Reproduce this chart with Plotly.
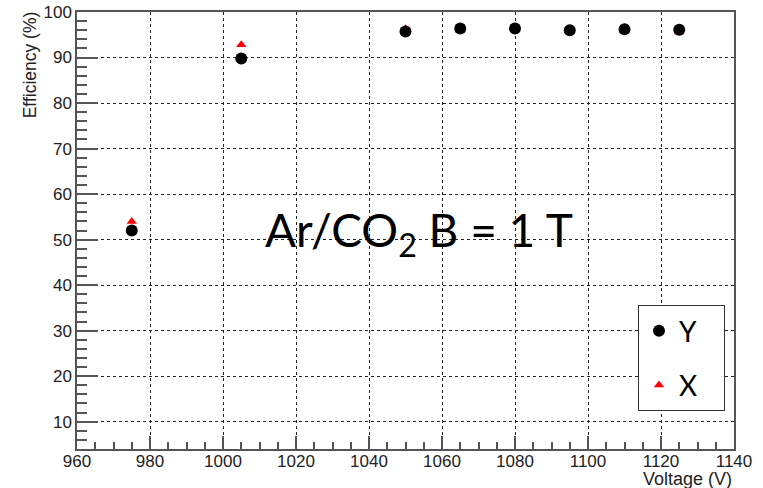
import plotly.graph_objects as go

voltage = [975, 1005, 1050, 1065, 1080, 1095, 1110, 1125]
eff_y = [52.0, 89.8, 95.7, 96.4, 96.4, 96.0, 96.2, 96.1]
eff_x = [54.0, 92.8, 96.3, 96.0, 96.2, 95.7, 96.0, 95.6]

pad = "\u00a0\u00a0\u00a0"
fig = go.Figure()
fig.add_trace(go.Scatter(x=voltage, y=eff_x, mode="markers", name="X" + pad,
                         legendrank=2, legendgroup="x",
                         marker=dict(symbol="triangle-up", color="#ff0000", size=9)))
fig.add_trace(go.Scatter(x=voltage, y=eff_y, mode="markers", name="Y" + pad,
                         legendrank=1, legendgroup="y",
                         marker=dict(symbol="circle", color="black", size=12)))

axcommon = dict(showline=True, linecolor="#555555", linewidth=1.5, mirror=True,
                ticks="inside", tickcolor="#555555", tickwidth=1.5, automargin=False,
                showgrid=True, gridcolor="#222222", griddash="dot", gridwidth=1,
                zeroline=False, tickfont=dict(family="Liberation Sans", size=17, color="#222"))

fig.update_xaxes(range=[960, 1140], dtick=20, tick0=960, ticklen=13, ticklabelstandoff=-4,
                 minor=dict(dtick=5, ticklen=7, tickcolor="#555555", tickwidth=1.5, showgrid=False, ticks="inside"),
                 **axcommon)
fig.update_yaxes(range=[4, 100], dtick=10, tick0=0, ticklen=21,
                 minor=dict(dtick=2, ticklen=10, tickcolor="#555555", tickwidth=1.5, showgrid=False, ticks="inside"),
                 **axcommon)

fig.update_layout(
    width=763, height=488,
    margin=dict(l=77, r=29, t=12, b=39),
    plot_bgcolor="white", paper_bgcolor="white",
    showlegend=True,
    legend=dict(x=(638 - 77) / 657, y=0.3295, xanchor="left", yanchor="top",
                bgcolor="white", bordercolor="#333333", borderwidth=1,
                font=dict(family="Lato", size=28, color="black"),
                tracegroupgap=15),
    annotations=[
        dict(text="Ar/CO<sub>2</sub> B = 1 T", x=1053.7, y=51.4, xref="x", yref="y",
             showarrow=False, font=dict(family="Lato", size=46, color="black")),
        dict(text="Efficiency (%)", x=0, y=1.005, xref="paper", yref="paper",
             xanchor="center", yanchor="top", xshift=-47, textangle=-90, showarrow=False,
             font=dict(family="Liberation Sans", size=17.5, color="#222")),
        dict(text="Voltage (V)", x=1, y=-0.069, xref="paper", yref="paper",
             xanchor="right", yanchor="middle", showarrow=False,
             font=dict(family="Liberation Sans", size=18, color="#222")),
    ],
)

fig.write_html("out.html", config={"displayModeBar": False},
               post_script="document.body.style.margin='0';")
